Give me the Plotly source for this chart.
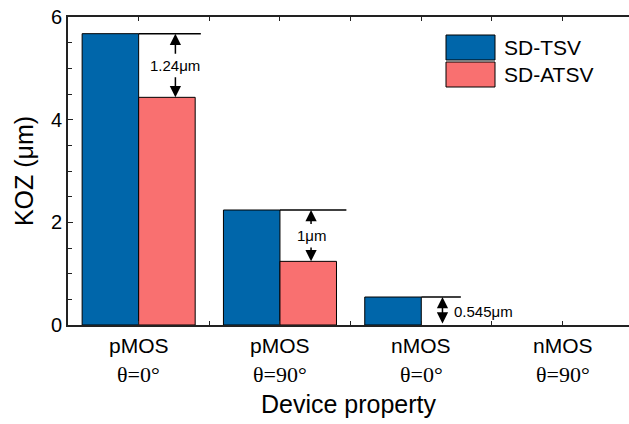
import plotly.graph_objects as go

# ---- data ----
categories = ["pMOS θ=0°", "pMOS θ=90°", "nMOS θ=0°", "nMOS θ=90°"]
cat_line1 = ["pMOS", "pMOS", "nMOS", "nMOS"]
cat_line2 = ["θ=0°", "θ=90°", "θ=0°", "θ=90°"]
sd_tsv = [5.675, 2.24, 0.545, 0.0]
sd_atsv = [4.435, 1.24, 0.0, 0.0]
series_names = ["SD-TSV", "SD-ATSV"]
gap_labels = ["1.24μm", "1μm", "0.545μm"]
y_ticks = [0, 2, 4, 6]

# ---- styling ----
BLUE = "#0066AA"
RED = "#F97070"
SANS = "Liberation Sans, Arial, sans-serif"
SERIF = "Liberation Serif, Times New Roman, serif"
AXC = "#222222"

xpos = list(range(len(categories)))

def edge_widths(vals):
    return [1 if v > 0 else 0 for v in vals]

fig = go.Figure()
fig.add_trace(go.Bar(x=xpos, y=sd_tsv, name=series_names[0],
                     marker=dict(color=BLUE, line=dict(color="black", width=edge_widths(sd_tsv))), showlegend=False))
fig.add_trace(go.Bar(x=xpos, y=sd_atsv, name=series_names[1],
                     marker=dict(color=RED, line=dict(color="black", width=edge_widths(sd_atsv))), showlegend=False))

# extension lines from top of SD-TSV bars
ext = [0.44, 0.47, 0.28]
arrow_x = [0.26, 0.22, 0.15]
for i in range(3):
    fig.add_shape(type="line", xref="x", yref="y", x0=i, x1=i + ext[i], y0=sd_tsv[i], y1=sd_tsv[i],
                  line=dict(color="black", width=1.5))

# gap arrows and labels for first two groups
for i in range(2):
    mid = (sd_tsv[i] + sd_atsv[i]) / 2
    xa = i + arrow_x[i]
    fig.add_annotation(x=xa, y=sd_tsv[i], ax=xa, ay=mid + 0.2, xref="x", yref="y", axref="x", ayref="y",
                       showarrow=True, arrowhead=2, arrowsize=1.5, arrowwidth=1.5, arrowcolor="black", text="")
    fig.add_annotation(x=xa, y=sd_atsv[i], ax=xa, ay=mid - 0.2, xref="x", yref="y", axref="x", ayref="y",
                       showarrow=True, arrowhead=2, arrowsize=1.5, arrowwidth=1.5, arrowcolor="black", text="")
    fig.add_annotation(x=xa, y=mid, xref="x", yref="y", text=gap_labels[i], showarrow=False,
                       font=dict(family=SANS, size=15, color="black"), xanchor="center", yanchor="middle")

# third group: double arrow from 0 to bar top
xa = 2 + arrow_x[2]
fig.add_annotation(x=xa, y=sd_tsv[2], ax=xa, ay=sd_atsv[2], xref="x", yref="y", axref="x", ayref="y",
                   showarrow=True, arrowhead=2, startarrowhead=2, arrowside="end+start", arrowsize=1.5,
                   startarrowsize=1.5, arrowwidth=1.5, arrowcolor="black", text="")
fig.add_annotation(x=xa + 0.07, y=sd_tsv[2] / 2, xref="x", yref="y", text=gap_labels[2], showarrow=False,
                   font=dict(family=SANS, size=15, color="black"), xanchor="left", yanchor="middle")

# category labels (two lines, sans + serif)
for j in xpos:
    fig.add_annotation(x=j, y=0, xref="x", yref="paper", yshift=-20, text=cat_line1[j], showarrow=False,
                       xanchor="center", yanchor="middle", font=dict(family=SANS, size=21, color="black"))
    fig.add_annotation(x=j, y=0, xref="x", yref="paper", yshift=-49, text=cat_line2[j], showarrow=False,
                       xanchor="center", yanchor="middle", font=dict(family=SERIF, size=22, color="black"))

# custom legend (large swatches) -- paper coords relative to plot area (561 x 308 px)
legend_colors = [BLUE, RED]
for k, (nm, col) in enumerate(zip(series_names, legend_colors)):
    top = 1 - (35 - 17 + k * 27) / 308
    fig.add_shape(type="rect", xref="paper", yref="paper", x0=(446 - 68) / 561, x1=(495 - 68) / 561,
                  y0=top - 25 / 308, y1=top, fillcolor=col, line=dict(color="black", width=1))
    fig.add_annotation(xref="paper", yref="paper", x=(502 - 68) / 561, y=top - 12.5 / 308, text=nm,
                       showarrow=False, xanchor="left", yanchor="middle", font=dict(family=SANS, size=21, color="black"))

tickvals = [v / 2 for v in range(0, 7)]

fig.update_layout(
    width=629, height=424,
    margin=dict(l=68, r=0, t=17, b=99),
    plot_bgcolor="white", paper_bgcolor="white",
    barmode="group", bargap=0.2, bargroupgap=0,
    showlegend=False,
    font=dict(family=SANS, color="black"),
    xaxis=dict(range=[-0.5, 3.47], tickmode="array", tickvals=tickvals, showticklabels=False,
               ticks="inside", ticklen=4, tickwidth=1, tickcolor=AXC,
               showline=True, linecolor=AXC, linewidth=2, mirror="allticks",
               showgrid=False, zeroline=False, automargin=False,
               title=dict(text="Device property", font=dict(family=SANS, size=25, color="black"), standoff=69)),
    yaxis=dict(range=[0, 6], tickmode="array", tickvals=y_ticks, ticks="inside", ticklen=5, tickwidth=1, tickcolor=AXC,
               minor=dict(tickmode="array", tickvals=[0.5, 1, 1.5, 2.5, 3, 3.5, 4.5, 5, 5.5], ticks="inside", ticklen=4, tickcolor=AXC),
               showline=True, linecolor=AXC, linewidth=2, showgrid=False, zeroline=False, automargin=False,
               ticklabeloverflow="allow",
               tickfont=dict(family=SANS, size=20, color="black"),
               title=dict(text="KOZ (μm)", font=dict(family=SANS, size=25, color="black"), standoff=10)),
)

# remove the browser's default 8px body margin so the figure sits at the window's corner
fig.write_html("out.html", config={"displayModeBar": False},
               post_script="document.body.style.margin='0px';")
